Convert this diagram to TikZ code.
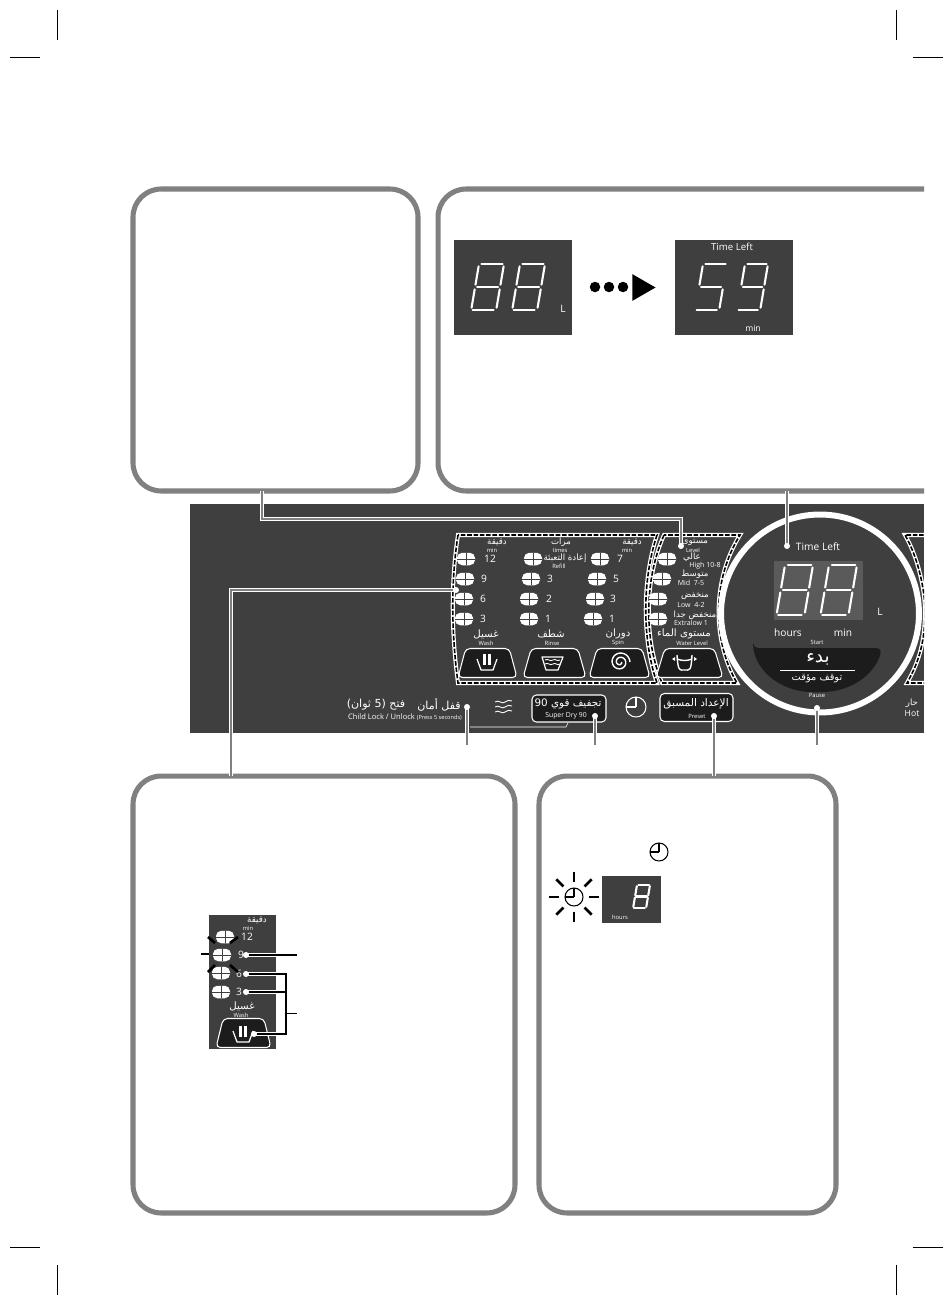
\documentclass[tikz,border=0pt]{standalone}
\usepackage{fontspec}
\setmainfont{Open Sans}
\newfontfamily\arabicfont[Script=Arabic]{DejaVu Sans}
\TeXXeTstate=1
\usetikzlibrary{shapes.geometric, positioning, arrows.meta, calc}
\definecolor{panelgrey}{HTML}{3F3F3F}
\definecolor{framegrey}{HTML}{808080}
\definecolor{lcdgrey}{HTML}{5A5A5A}
\definecolor{keyblack}{HTML}{1C1C1C}
\newcommand{\ar}[1]{{\arabicfont\beginR #1\endR}}
% one digit of the display, unit square scaled to w x h
\newcommand{\segdigit}[5]{%
  \begin{scope}[shift={(#1,#2)}, x=#3*0.02cm, y=-#4*0.02cm, xslant=0.17]
    \coordinate (sa) at (.1,0);     \coordinate (ea) at (.94,0);
    \coordinate (sb) at (1,.05);    \coordinate (eb) at (1,.45);
    \coordinate (sc) at (1,.55);    \coordinate (ec) at (1,.95);
    \coordinate (sd) at (.06,1);    \coordinate (ed) at (.9,1);
    \coordinate (se) at (0,.55);    \coordinate (ee) at (0,.95);
    \coordinate (sf) at (0,.05);    \coordinate (ef) at (0,.45);
    \coordinate (sg) at (.08,.5);   \coordinate (eg) at (.92,.5);
    \foreach \seg in {#5} \draw[segline] (s\seg) -- (e\seg);
  \end{scope}}
\newcommand{\tubicon}[2]{%
  \begin{scope}[shift={(#1,#2)}]
    \draw[iconline] (-10,-1) -- (-6,10) -- (6,10) -- (10,-1);
    \draw[iconline, line width=1.3pt] (-2.5,-6) -- (-2.5,5);
    \draw[iconline, line width=1.3pt] (2.5,-6) -- (2.5,5);
  \end{scope}}
\begin{document}
\begin{tikzpicture}[
  x=0.02cm, y=-0.02cm,
  every node/.style={inner sep=0pt, outer sep=0pt},
  >=Latex,
  framebox/.style={draw=framegrey, line width=2.9pt, rounded corners=0.56cm, fill=white},
  crop/.style={line width=0.4pt, black},
  leadcase/.style={white, line width=2.8pt},
  leadcore/.style={framegrey, line width=1.6pt},
  blackcase/.style={white, line width=2.2pt},
  blackcore/.style={black, line width=1pt},
  leaddot/.style={circle, fill=white, minimum size=0.12cm},
  grouphalo/.style={white, line width=2.3pt},
  groupdash/.style={black, line width=0.9pt, dash pattern=on 2.6pt off 1pt},
  lamp/.style={fill=white, rounded corners=3pt, minimum width=0.36cm, minimum height=0.25cm},
  lampgap/.style={panelgrey, line width=0.45pt},
  segline/.style={white, line width=1.2pt, line cap=round},
  iconline/.style={white, line width=0.7pt, line join=round},
  keybox/.style={draw=white, line width=0.6pt, fill=keyblack, rounded corners=2.5pt},
  key/.style={trapezium, trapezium left angle=80, trapezium right angle=80, trapezium stretches=true, inner sep=1pt, keybox, minimum height=0.58cm},
  mid/.style={text=white, font=\fontsize{5.8}{6}\selectfont},
  small/.style={text=white, font=\fontsize{4.9}{5}\selectfont},
  tiny/.style={text=white, font=\fontsize{3.3}{4}\selectfont},
  flash/.style={black, line width=1.5pt},
]
\useasboundingbox (0,0) rectangle (952,1304);

%% ---- crop marks ----
\foreach \mx/\my in {57/10, 896/10, 57/1265, 896/1265} \draw[crop] (\mx,\my) -- ++(0,30);
\foreach \mx/\my in {10/57, 913/57, 10/1247, 913/1247} \draw[crop] (\mx,\my) -- ++(30,0);

%% ---- callout frames ----
\begin{scope}
  \clip (0,0) rectangle (924,1304);
  \node[framebox, minimum width=5.7cm, minimum height=6.04cm] (levelbox) at (275.5,340) {};
  \node[framebox, minimum width=11.24cm, minimum height=6.04cm] (timebox) at (719,340) {};
\end{scope}
\node[framebox, minimum width=7.64cm, minimum height=8.74cm] (washbox) at (324,994.5) {};
\node[framebox, minimum width=5.94cm, minimum height=8.74cm] (presetbox) at (687.5,994.5) {};

%% ---- displays in the top frame ----
\node[fill=panelgrey, minimum width=2.36cm, minimum height=1.9cm] (lcdleft) at (513,287.5) {};
\node[fill=panelgrey, minimum width=2.36cm, minimum height=1.9cm] (lcdright) at (734,287.5) {};
\segdigit{479}{264}{25}{46}{a,b,c,d,e,f,g}
\segdigit{520}{264}{25}{46}{a,b,c,d,e,f,g}
\node[mid] (lcdunit) at (563,309) {L};
\foreach \dx/\dn in {595/one, 609/two, 623/three}
  \node[circle, fill=black, minimum size=0.21cm] (dot\dn) at (\dx,287) {};
\node[regular polygon, regular polygon sides=3, shape border rotate=-90, fill=black, minimum size=0.62cm] (goarrow) at (640,287.5) {};
\node[text=white, font=\fontsize{5.5}{6}\selectfont] (lcdtime) at (732,247) {Time Left};
\segdigit{703}{264}{24}{46}{a,f,g,c,d}
\segdigit{745}{264}{23}{46}{a,b,c,d,f,g}
\node[small] (lcdmin) at (753,328) {min};

%% ---- control panel ----
\begin{scope}
  \clip (190,504) rectangle (924,733);
  \node[fill=panelgrey, minimum width=14.68cm, minimum height=4.58cm] (panel) at (557,618.5) {};

  %% cycle group borders
  \foreach \stl in {grouphalo, groupdash} {
    \draw[\stl] (458,535) .. controls (451,580) and (451,630) .. (458,683) -- (657,683)
      .. controls (642,640) and (642,580) .. (657,535) -- cycle;
    \draw[\stl] (664,535) .. controls (644,580) and (644,640) .. (662,683) -- (737,683)
      .. controls (712,640) and (712,580) .. (740,535) -- cycle;
    \draw[\stl] (930,535) -- (905,535) .. controls (922,565) and (925,600) .. (925,610)
      .. controls (925,640) and (920,660) .. (907,683) -- (930,683);
  }

  %% time dial
  \node[circle, draw=white, line width=3.4pt, fill=panelgrey, minimum size=3.96cm] (dial) at (820,613.5) {};
  \node[fill=lcdgrey, minimum width=1.78cm, minimum height=1.18cm] (dialcd) at (818.5,590.5) {};
  \draw[fill=keyblack, draw=none, rounded corners=3pt] (753,648) -- (882,648)
    .. controls (875,675) and (850,692) .. (817,692) .. controls (785,692) and (760,675) .. (753,648) -- cycle;
  \draw[white, line width=0.5pt] (780,670) -- (855,670);
\end{scope}
\segdigit{785}{565}{28}{50}{a,b,c,d,e,f,g}
\segdigit{829}{565}{28}{50}{a,b,c,d,e,f,g}
\node[mid] (timeleft) at (818,547) {Time Left};
\node[mid] (dialunit) at (880,612) {L};
\node[mid] (hourlbl) at (788,633) {hours};
\node[mid] (minlbl) at (843,633) {min};
\node[tiny] (startlbl) at (817,642) {Start};
\node[text=white, font=\fontsize{10.5}{11}\selectfont] (startar) at (818,659) {\ar{بدء}};
\node[text=white, font=\fontsize{5.6}{6}\selectfont] (pausear) at (817,679) {\ar{توقف مؤقت}};
\node[tiny] (pauselbl) at (817,695) {Pause};
\node[small] (hotar) at (912,703) {\ar{حار}};
\node[small] (hotlbl) at (912,713) {Hot};

%% ---- wash example ----
\node[fill=panelgrey, minimum width=1.34cm, minimum height=2.68cm] (washpanel) at (242.5,982) {};

%% ---- lamps ----
\foreach \lx/\ly [count=\i] in {466/559, 465/579, 464/599, 464/619, 533/559, 531/579, 529/599, 529/619,
    600/559, 597/579, 595/599, 593/619, 667/559, 662/579, 658/599, 658/619,
    225/937, 222/955, 221/973, 221/992} {
  \node[lamp] (lamp\i) at (\lx,\ly) {};
  \draw[lampgap] (lamp\i.north) -- (lamp\i.south);
  \draw[lampgap] (lamp\i.west) -- (lamp\i.east);
}

%% ---- lamp numbers ----
\foreach \tx/\ty/\tnum [count=\i] in {490/559/12, 484/579/9, 483/599/6, 483/619/3, 550/579/3, 549/599/2, 548/619/1,
    620/559/7, 616/579/5, 613/599/3, 612/619/1, 247/937/12, 241/955/9, 239/974/6, 239/992/3}
  \node[mid] (num\i) at (\tx,\ty) {\tnum};

%% ---- panel wording ----
\node[small] (washmin) at (497,542) {\ar{دقيقة}};
\node[tiny] (washminen) at (492,550) {min};
\node[small] (rinsetimes) at (561,542) {\ar{مرات}};
\node[tiny] (rinsetimesen) at (560,550) {times};
\node[small] (spinmin) at (632,542) {\ar{دقيقة}};
\node[tiny] (spinminen) at (627,550) {min};
\node[small] (refillar) at (565,558) {\ar{إعادة التعبئة}};
\node[tiny] (refillen) at (559,566) {Refill};
\node[small] (levelar) at (695,542) {\ar{مستوى}};
\node[tiny] (levelen) at (693,550) {Level};
\node[small] (highar) at (692,557) {\ar{عالي}};
\node[tiny, font=\fontsize{4}{4}\selectfont] (highen) at (705,566) {High 10-8};
\node[small] (midar) at (695,574) {\ar{متوسط}};
\node[tiny, font=\fontsize{4}{4}\selectfont] (miden) at (691,583) {Mid\ \ 7-5};
\node[small] (lowar) at (695,596) {\ar{منخفض}};
\node[tiny, font=\fontsize{4}{4}\selectfont] (lowen) at (691,605) {Low\ \ 4-2};
\node[small] (xlowar) at (695,615) {\ar{منخفض جدا}};
\node[tiny, font=\fontsize{4}{4}\selectfont] (xlowen) at (691,623) {Extralow 1};
\node[mid] (washar) at (486,634) {\ar{غسيل}};
\node[tiny] (washen) at (486,643) {Wash};
\node[mid] (rinsear) at (551,634) {\ar{شطف}};
\node[tiny] (rinseen) at (552,643) {Rinse};
\node[mid] (spinar) at (618,634) {\ar{دوران}};
\node[tiny] (spinen) at (618,643) {Spin};
\node[mid] (waterar) at (684,634) {\ar{مستوى الماء}};
\node[tiny] (wateren) at (692,643) {Water Level};
\node[small] (exminar) at (257,920) {\ar{دقيقة}};
\node[tiny] (exminen) at (248,928) {min};
\node[mid] (exwashar) at (242,1006) {\ar{غسيل}};
\node[tiny] (exwashen) at (241,1015) {Wash};

%% ---- cycle keys ----
\node[key, minimum width=1.18cm] (washkey) at (487.5,663) {};
\node[key, minimum width=1.26cm] (rinsekey) at (554.5,663) {};
\node[key, minimum width=1.22cm] (spinkey) at (619.5,663) {};
\node[key, minimum width=1.34cm] (waterkey) at (689.5,663) {};
\node[key, minimum width=1.1cm] (exkey) at (243.5,1033) {};
\tubicon{487}{660}
\tubicon{243}{1032}
% rinse tub
\draw[iconline] (542,657) -- (546,670) -- (558,670) -- (563,657) -- cycle;
\foreach \wy in {660,664}
  \draw[iconline, line width=0.5pt] (545,\wy) .. controls (548,\wy-2) and (550,\wy+2) .. (553,\wy) .. controls (555,\wy-2) and (557,\wy+2) .. (560,\wy);
% spin spiral
\draw[iconline, line width=0.8pt] plot[domain=0:720, samples=60, smooth] ({620+(1.5+\x/85)*cos(\x)},{662+(1.5+\x/85)*sin(\x)});
% water level tub
\draw[iconline, line width=0.8pt] (677,655) .. controls (678,672) and (680,670) .. (684,670) .. controls (690,670) and (691,672) .. (692,655);
\draw[iconline, line width=0.8pt] (677,659) .. controls (682,661) and (687,661) .. (692,659);
\fill[white] (675,657) -- (672,659) -- (675,661) -- cycle;
\fill[white] (694,657) -- (697,659) -- (694,661) -- cycle;

%% ---- lower row of panel ----
\node[text=white, font=\fontsize{6.3}{7}\selectfont] (lockar) at (439,705) {\ar{قفل أمان}};
\node[text=white, font=\fontsize{6.3}{7}\selectfont] (unlockar) at (376,705) {\ar{فتح (\beginL 5\endL{} ثوان)}};
\node[tiny, font=\fontsize{4.3}{5}\selectfont] (locken) at (405,717) {Child Lock / Unlock {\fontsize{3.2}{4}\selectfont(Press 5 seconds)}};
\foreach \wy in {702,707,712}
  \draw[iconline, line width=0.5pt] (495,\wy) .. controls (499,\wy-3) and (502,\wy+3) .. (505,\wy) .. controls (507,\wy-2) and (510,\wy-2) .. (512,\wy-1);
\node[keybox, minimum width=1.48cm, minimum height=0.54cm] (drykey) at (569,708.5) {};
\node[text=white, font=\fontsize{5.9}{6}\selectfont] (dryar) at (568,703.5) {\ar{تجفيف قوي \beginL 90\endL{}}};
\node[tiny, font=\fontsize{3.9}{4}\selectfont] (dryen) at (566,716) {Super Dry 90};
\node[circle, draw=white, line width=0.6pt, minimum size=0.4cm] (presetclock) at (636,707) {};
\draw[iconline] (presetclock.center) -- (presetclock.north);
\draw[iconline] (presetclock.center) -- (presetclock.west);
\node[keybox, minimum width=1.46cm, minimum height=0.56cm] (presetkey) at (696.5,707.5) {};
\node[text=white, font=\fontsize{6}{7}\selectfont] (presetar) at (696,703.5) {\ar{الإعداد المسبق}};
\node[tiny] (preseten) at (697,716) {Preset};

%% ---- leaders, top and left ----
\coordinate (lvlA) at (262,491);
\coordinate (lvlB) at (262,519);
\coordinate (lvlC) at (681,519);
\coordinate (lvlD) at (681,546);
\coordinate (timeA) at (787,491);
\coordinate (timeB) at (787,546);
\coordinate (washA) at (231,776);
\coordinate (washB) at (231,590);
\coordinate (washC) at (456,590);
\draw[leadcase] (lvlA) -- (lvlB) -- (lvlC) -- (lvlD);
\draw[leadcore] (lvlA) -- (lvlB) -- (lvlC) -- (lvlD);
\draw[leadcase] (timeA) -- (timeB);
\draw[leadcore] (timeA) -- (timeB);
\draw[leadcase] (washA) -- (washB) -- (washC);
\draw[leadcore] (washA) -- (washB) -- (washC);
\node[leaddot] (lvldot) at (lvlD) {};
\node[leaddot] (timedot) at (timeB) {};
\node[leaddot] (washdot) at (washC) {};

%% ---- leaders, bottom ----
\coordinate (locktop) at (467,707); \coordinate (lockend) at (467,745);
\coordinate (drytop) at (595,716); \coordinate (dryend) at (595,745);
\coordinate (presettop) at (714,716); \coordinate (presetend) at (714,776);
\coordinate (pausetop) at (817,708); \coordinate (pauseend) at (817,745);
\foreach \bn in {lock, dry, preset, pause} {
  \draw[leadcase] (\bn top) -- (\bn end);
  \draw[leadcore] (\bn top) -- (\bn end);
  \node[leaddot] (\bn dot) at (\bn top) {};
}
\coordinate (linkA) at (470,727);
\coordinate (linkB) at (566,727);
\coordinate (linkC) at (568,723);
\draw[white, line width=0.35pt] (linkA) -- (linkB) -- (linkC);

%% ---- preset frame ----
\node[circle, draw=black, line width=0.6pt, minimum size=0.36cm] (noteclock) at (659,852) {};
\draw[black, line width=0.6pt] (noteclock.center) -- (noteclock.north);
\draw[black, line width=0.6pt] (noteclock.center) -- (noteclock.west);
\node[circle, draw=black, line width=0.6pt, minimum size=0.36cm] (flashclock) at (574,897) {};
\draw[black, line width=0.6pt] (flashclock.center) -- (flashclock.north);
\draw[black, line width=0.6pt] (flashclock.center) -- (flashclock.west);
\foreach \ang in {0,45,...,315}
  \draw[flash] ($(flashclock)+(\ang:15)$) -- ($(flashclock)+(\ang:25)$);
\node[fill=panelgrey, minimum width=1.18cm, minimum height=0.94cm] (hourlcd) at (631.5,899.5) {};
\segdigit{637}{885}{13}{23}{a,b,c,d,e,f,g}
\node[tiny] (hourlbl2) at (620,917) {hours};

%% ---- wash frame: flashing lamp and leaders ----
\draw[flash] (208,937) -- (215,943);
\draw[flash] (238,937) -- (230,943);
\draw[flash] (201,954) -- (209,954);
\draw[flash] (208,972) -- (215,965);
\draw[flash] (238,972) -- (230,965);
\coordinate (nineA) at (246,955);
\coordinate (nineB) at (297,955);
\coordinate (sixA) at (246,974);
\coordinate (trunkT) at (286,974);
\coordinate (trunkB) at (286,1034);
\coordinate (keyA) at (254,1034);
\coordinate (threeA) at (246,992);
\coordinate (threeB) at (286,992);
\coordinate (tickA) at (286,1013);
\coordinate (tickB) at (297,1013);
\foreach \stl in {blackcase, blackcore} {
  \draw[\stl] (nineA) -- (nineB);
  \draw[\stl] (sixA) -- (trunkT) -- (trunkB) -- (keyA);
  \draw[\stl] (threeA) -- (threeB);
}
\draw[blackcore, line width=0.5pt] (tickA) -- (tickB);
\node[leaddot] (ninedot) at (nineA) {};
\node[leaddot] (sixdot) at (sixA) {};
\node[leaddot] (threedot) at (threeA) {};
\node[leaddot] (keydot) at (keyA) {};
\end{tikzpicture}
\end{document}
